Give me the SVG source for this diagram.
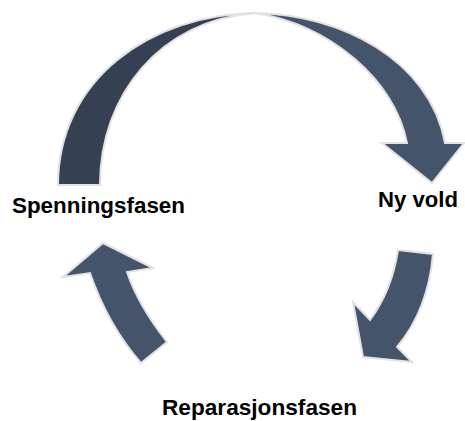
<svg xmlns="http://www.w3.org/2000/svg" width="465" height="421" viewBox="0 0 465 421">
<style>
.arrow{fill:#44546a;stroke:#e2e2e2;stroke-width:2;stroke-linejoin:miter}
.dark{fill:#354152}
.lbl{font-family:"Liberation Sans",Arial,sans-serif;font-weight:bold;font-size:22px;fill:#000}
</style>
<rect width="465" height="421" fill="#fff"/>
<g id="connectors">
<path class="arrow dark" d="M58,185 C58,80 150,14 256,13 C160,20 100,95 100,185 Z"/>
<path class="arrow" d="M255,13 C340,14 430,60 445,143 L464,143 L432,183 L382,143 L407,143 C395,80 330,25 255,13 Z"/>
<path class="arrow" d="M398,250 L433,254 Q428,310 397,347 L412,362 L363,357 L353,302 L370,320 Q392,290 398,250 Z"/>
<path class="arrow" d="M141,363 L167,342 Q138,305 127,272 L153,268 L103,243 L63,277 L90,273 Q108,325 141,363 Z"/>
</g>
<g id="spenningsfasen"><text class="lbl" x="12" y="213" textLength="173" lengthAdjust="spacingAndGlyphs">Spenningsfasen</text></g>
<g id="ny-vold"><text class="lbl" x="378" y="207" textLength="80" lengthAdjust="spacingAndGlyphs">Ny vold</text></g>
<g id="reparasjonsfasen"><text class="lbl" x="162" y="415" textLength="195" lengthAdjust="spacingAndGlyphs">Reparasjonsfasen</text></g>
</svg>
